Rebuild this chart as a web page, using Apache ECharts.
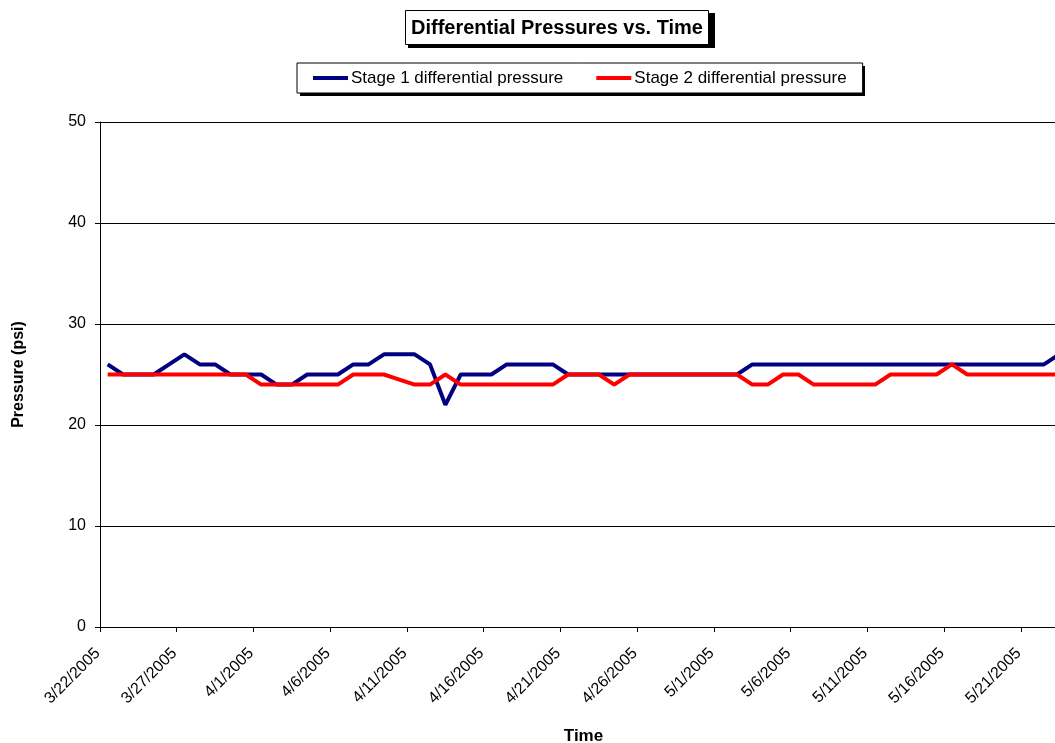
<!DOCTYPE html>
<html>
<head>
<meta charset="utf-8">
<script src="https://cdn.jsdelivr.net/npm/echarts@6/dist/echarts.min.js"></script>
<style>
html,body{margin:0;padding:0;background:#fff;overflow:hidden;}
#chart{width:1055px;height:743px;}
</style>
</head>
<body>
<div id="chart"></div>
<script>
var dates = [
 "3/22/2005","3/23/2005","3/24/2005","3/25/2005","3/26/2005","3/27/2005","3/28/2005","3/29/2005","3/30/2005","3/31/2005",
 "4/1/2005","4/2/2005","4/3/2005","4/4/2005","4/5/2005","4/6/2005","4/7/2005","4/8/2005","4/9/2005","4/10/2005",
 "4/11/2005","4/12/2005","4/13/2005","4/14/2005","4/15/2005","4/16/2005","4/17/2005","4/18/2005","4/19/2005","4/20/2005",
 "4/21/2005","4/22/2005","4/23/2005","4/24/2005","4/25/2005","4/26/2005","4/27/2005","4/28/2005","4/29/2005","4/30/2005",
 "5/1/2005","5/2/2005","5/3/2005","5/4/2005","5/5/2005","5/6/2005","5/7/2005","5/8/2005","5/9/2005","5/10/2005",
 "5/11/2005","5/12/2005","5/13/2005","5/14/2005","5/15/2005","5/16/2005","5/17/2005","5/18/2005","5/19/2005","5/20/2005",
 "5/21/2005","5/22/2005","5/23/2005"
];
var stage1 = [
 26,25,25,25,26,27,26,26,25,25,
 25,24,24,25,25,25,26,26,27,27,
 27,26,22,25,25,25,26,26,26,26,
 25,25,25,25,25,25,25,25,25,25,
 25,25,26,26,26,26,26,26,26,26,
 26,26,26,26,26,26,26,26,26,26,
 26,26,27
];
var stage2 = [
 25,25,25,25,25,25,25,25,25,25,
 24,24,24,24,24,24,25,25,25,24.5,
 24,24,25,24,24,24,24,24,24,24,
 25,25,25,24,25,25,25,25,25,25,
 25,25,24,24,25,25,24,24,24,24,
 24,25,25,25,25,26,25,25,25,25,
 25,25,25
];
var yTicks = {min: 0, max: 50, interval: 10};
var seriesNames = ["Stage 1 differential pressure", "Stage 2 differential pressure"];

var FONT = "'Liberation Sans', Arial, sans-serif";
var chart = echarts.init(document.getElementById('chart'), null, {renderer: 'canvas', width: 1055, height: 743});
chart.setOption({
  animation: false,
  backgroundColor: '#ffffff',
  graphic: [
    {type: 'rect', z: 1, shape: {x: 408, y: 13, width: 307, height: 35}, style: {fill: '#000'}},
    {type: 'rect', z: 1, shape: {x: 300, y: 66, width: 565, height: 30}, style: {fill: '#000'}}
  ],
  title: {
    text: 'Differential Pressures vs. Time',
    left: 405, top: 10,
    padding: [7, 6, 6, 6],
    z: 10,
    borderColor: '#000', borderWidth: 1,
    backgroundColor: '#fff',
    textStyle: {fontFamily: FONT, fontSize: 20, lineHeight: 22, fontWeight: 'bold', color: '#000'}
  },
  legend: {
    data: seriesNames,
    left: 297, top: 63,
    z: 10,
    padding: [6, 16, 6, 16],
    itemGap: 33,
    itemWidth: 35, itemHeight: 4,
    icon: 'rect',
    borderColor: '#000', borderWidth: 1,
    backgroundColor: '#fff',
    textStyle: {fontFamily: FONT, fontSize: 17, lineHeight: 18, color: '#000', padding: [0, 0, 0, -2]}
  },
  grid: {left: 100, top: 122, width: 967, height: 505, containLabel: false, outerBoundsMode: 'none'},
  xAxis: {
    type: 'category',
    data: dates,
    boundaryGap: true,
    name: 'Time',
    nameLocation: 'middle',
    nameGap: 101,
    nameTextStyle: {fontFamily: FONT, fontSize: 17, fontWeight: 'bold', color: '#000'},
    axisLine: {show: true, lineStyle: {color: '#000', width: 1}},
    axisTick: {show: true, interval: 4, length: 5, lineStyle: {color: '#000'}},
    axisLabel: {interval: 4, rotate: 45, margin: 14, padding: [0, 14, 0, 0], fontFamily: FONT, fontSize: 16, color: '#000'},
    splitLine: {show: false}
  },
  yAxis: {
    type: 'value',
    min: yTicks.min, max: yTicks.max, interval: yTicks.interval,
    name: 'Pressure (psi)',
    nameLocation: 'middle',
    nameGap: 73,
    nameRotate: 90,
    nameTextStyle: {fontFamily: FONT, fontSize: 16, fontWeight: 'bold', color: '#000'},
    axisLine: {show: true, lineStyle: {color: '#000', width: 1}},
    axisTick: {show: true, length: 5, lineStyle: {color: '#000'}},
    axisLabel: {margin: 14, fontFamily: FONT, fontSize: 16, color: '#000'},
    splitLine: {show: true, lineStyle: {color: '#000', width: 1}}
  },
  series: [
    {name: seriesNames[0], type: 'line', data: stage1, showSymbol: false, symbol: 'none',
     lineStyle: {color: '#000080', width: 4}, itemStyle: {color: '#000080'}},
    {name: seriesNames[1], type: 'line', data: stage2, showSymbol: false, symbol: 'none',
     lineStyle: {color: '#ff0000', width: 4}, itemStyle: {color: '#ff0000'}}
  ]
});
</script>
</body>
</html>
